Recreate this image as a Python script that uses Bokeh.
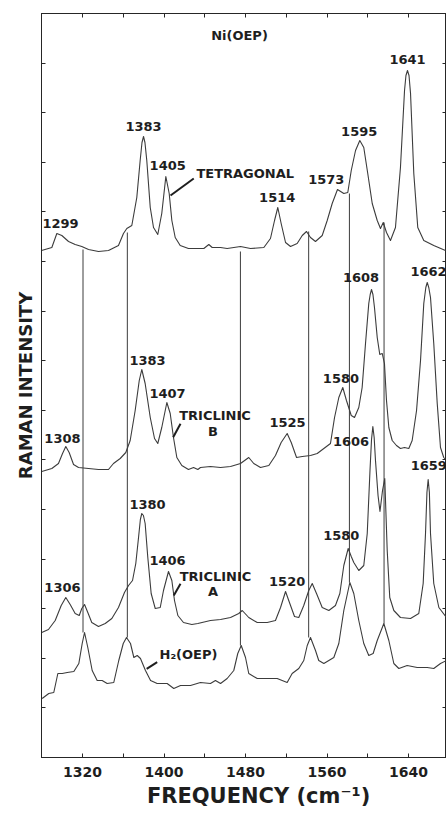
from bokeh.plotting import figure
from bokeh.models import Range1d, FixedTicker, LinearAxis, ColumnDataSource
from bokeh.core.properties import value
from bokeh.embed import file_html
from bokeh.resources import INLINE

# ---------------- data (frequency cm-1, relative Raman intensity) ----------------
tetra_f = [1279.8, 1289.9, 1294.8, 1299.7, 1306.3, 1312.8, 1319.3, 1325.9, 1335.7, 1345.5,
           1355.3, 1360.2, 1363.5, 1368.4, 1373.3, 1376.6, 1378.4, 1379.9, 1381.3, 1383.1,
           1386.5, 1389.7, 1393.9, 1397.8, 1401.8, 1405.1, 1407.7, 1411.0, 1415.9, 1424.0,
           1432.2, 1439.1, 1444.0, 1447.3, 1455.5, 1462.0, 1475.1, 1484.9, 1498.0, 1504.5,
           1508.5, 1511.7, 1515.0, 1519.3, 1524.2, 1530.7, 1535.7, 1539.9, 1543.8, 1548.7,
           1555.3, 1560.2, 1565.1, 1570.3, 1576.5, 1580.4, 1583.8, 1588.0, 1592.2, 1596.1,
           1600.0, 1604.4, 1609.3, 1612.5, 1615.2, 1618.4, 1622.3, 1627.2, 1632.1, 1636.1,
           1637.5, 1639.0, 1640.5, 1642.0, 1645.2, 1649.1, 1655.0, 1664.8, 1676.3]
tetra_i = [507, 510, 524, 522, 516, 513, 511, 508, 506, 507,
           512, 524, 529, 532, 560, 597, 615, 621, 615, 597,
           550, 530, 523, 544, 581, 564, 537, 520, 512, 509,
           509, 509, 513, 510, 510, 509, 511, 509, 510, 519,
           537, 550, 534, 515, 511, 514, 522, 526, 520, 516,
           522, 537, 554, 568, 564, 565, 587, 607, 617, 610,
           584, 554, 537, 529, 535, 525, 517, 530, 590, 667,
           682, 687, 682, 664, 584, 530, 517, 512, 507]

tricB_f = [1280.0, 1289.9, 1296.4, 1300.4, 1303.6, 1306.9, 1311.2, 1316.1, 1325.9, 1335.7,
           1345.5, 1350.4, 1357.0, 1362.5, 1366.8, 1371.7, 1375.7, 1378.2, 1381.5, 1386.5,
           1390.7, 1393.9, 1397.8, 1402.8, 1406.1, 1409.3, 1412.6, 1417.5, 1424.0, 1429.0,
           1433.2, 1435.8, 1445.6, 1455.5, 1465.3, 1475.1, 1483.2, 1488.1, 1494.7, 1502.9,
           1509.4, 1515.0, 1520.9, 1524.9, 1530.1, 1535.7, 1543.8, 1550.4, 1556.9, 1563.4,
           1567.4, 1571.6, 1575.5, 1579.1, 1583.8, 1587.0, 1591.2, 1594.5, 1597.8, 1601.0,
           1602.4, 1603.7, 1605.1, 1606.6, 1609.3, 1611.8, 1614.2, 1616.4, 1618.4, 1620.7,
           1624.0, 1628.2, 1632.1, 1636.1, 1640.3, 1643.6, 1647.9, 1651.8, 1655.0, 1657.0,
           1658.4, 1659.9, 1661.6, 1664.8, 1668.2, 1671.4, 1674.6, 1677.3]
tricB_i = [286, 289, 294, 304, 311, 305, 293, 290, 289, 288,
           288, 294, 299, 305, 317, 347, 377, 388, 374, 340,
           319, 314, 330, 355, 344, 320, 300, 292, 288, 290,
           288, 290, 291, 290, 291, 294, 300, 294, 290, 292,
           302, 315, 324, 315, 300, 301, 302, 304, 309, 314,
           340, 360, 370, 357, 342, 340, 350, 370, 414, 454,
           463, 468, 463, 450, 420, 403, 404, 394, 357, 330,
           317, 312, 309, 310, 309, 317, 347, 397, 454, 470,
           475, 470, 460, 414, 354, 310, 300, 297]

tricA_f = [1280.0, 1286.6, 1293.2, 1299.1, 1303.6, 1307.9, 1312.8, 1316.8, 1319.3, 1322.0,
           1325.2, 1329.1, 1335.7, 1342.3, 1348.8, 1355.3, 1361.2, 1365.2, 1369.1, 1372.3,
           1375.0, 1376.8, 1378.2, 1379.8, 1381.5, 1384.1, 1387.4, 1391.4, 1396.3, 1399.5,
           1404.4, 1407.7, 1410.3, 1413.6, 1419.1, 1427.3, 1433.2, 1445.6, 1455.5, 1465.3,
           1473.4, 1476.8, 1483.2, 1491.5, 1501.3, 1509.4, 1514.4, 1519.3, 1523.5, 1528.1,
           1532.3, 1537.2, 1542.1, 1545.5, 1549.7, 1555.3, 1561.8, 1568.3, 1572.6, 1576.5,
           1580.8, 1583.8, 1586.3, 1591.2, 1596.1, 1599.5, 1602.2, 1603.7, 1605.0, 1606.3,
           1607.6, 1610.1, 1612.0, 1614.5, 1616.7, 1619.1, 1621.6, 1625.6, 1632.1, 1642.0,
           1650.1, 1654.4, 1656.7, 1658.1, 1659.3, 1660.5, 1661.6, 1664.8, 1669.8, 1677.3]
tricA_i = [125, 128, 137, 152, 160, 153, 144, 142, 149, 153,
           145, 135, 131, 134, 139, 150, 165, 172, 177, 194,
           220, 238, 244, 242, 234, 200, 164, 149, 150, 167,
           186, 177, 157, 142, 135, 133, 134, 137, 138, 140,
           144, 147, 140, 135, 135, 137, 150, 166, 154, 141,
           140, 152, 167, 174, 164, 150, 147, 152, 164, 192,
           209, 201, 195, 187, 192, 224, 287, 318, 331, 320,
           297, 262, 246, 267, 279, 207, 160, 147, 140, 139,
           144, 174, 224, 265, 278, 265, 224, 174, 150, 140]

h2_f = [1280.4, 1286.9, 1291.8, 1295.8, 1300.1, 1305.0, 1311.5, 1316.4, 1319.7, 1322.0,
        1325.2, 1329.5, 1334.4, 1339.3, 1344.2, 1350.7, 1355.6, 1360.0, 1363.2, 1367.1,
        1370.4, 1373.7, 1376.9, 1381.8, 1386.8, 1393.3, 1403.1, 1409.6, 1416.2, 1426.0,
        1435.8, 1445.6, 1450.5, 1455.5, 1462.0, 1468.5, 1472.4, 1475.8, 1480.0, 1483.2,
        1491.5, 1501.3, 1511.1, 1520.9, 1525.8, 1532.3, 1537.2, 1540.6, 1543.8, 1548.7,
        1551.9, 1556.9, 1561.8, 1566.7, 1571.6, 1576.5, 1582.4, 1586.3, 1591.2, 1596.1,
        1601.0, 1605.3, 1609.3, 1615.8, 1620.7, 1625.6, 1630.5, 1638.7, 1648.5, 1658.4,
        1664.8, 1671.4, 1677.3]
h2_i = [59, 64, 65, 84, 84, 85, 86, 94, 114, 125,
        110, 87, 77, 77, 74, 75, 97, 114, 120, 114,
        100, 102, 99, 87, 77, 74, 74, 69, 72, 72,
        75, 74, 77, 74, 79, 87, 104, 112, 100, 84,
        79, 79, 79, 75, 84, 89, 97, 112, 120, 107,
        97, 94, 97, 100, 114, 147, 175, 164, 137, 114,
        102, 104, 117, 134, 117, 94, 89, 92, 90, 90,
        89, 94, 97]

# H2(OEP) bands marked through all spectra
marker_f = [1320.5, 1364, 1475, 1542, 1582, 1616]
marker_top = [508, 525, 506, 526, 564, 535]
marker_bottom = [125, 120, 112, 120, 175, 134]

# band labels
label_text = ["Ni(OEP)", "1299", "1383", "1405", "TETRAGONAL", "1514", "1573", "1595", "1641",
              "1308", "1383", "1407", "TRICLINIC", "B", "1525", "1580", "1608", "1662",
              "1306", "1380", "1406", "TRICLINIC", "A", "1520", "1580", "1606", "1659",
              "H\u2082(OEP)"]
label_f = [1474.1, 1298.4, 1379.9, 1403.6, 1479.7, 1511.1, 1559.3, 1591.6, 1639.0,
           1300.3, 1383.8, 1403.5, 1450.1, 1448.1, 1521.2, 1573.7, 1593.4, 1659.6,
           1300.3, 1383.8, 1403.5, 1450.6, 1448.1, 1520.9, 1574.0, 1583.6, 1659.9,
           1424.0]
label_i = [722, 534, 631, 592, 584.5, 560, 578, 626, 698,
           319.5, 397.5, 364.5, 342, 326, 335, 379.5, 480.3, 485.7,
           170.3, 252.7, 197, 181, 165.7, 175.7, 222, 315.7, 292,
           103]

# leader arrows for labels
arrow_f0 = [1429.2, 1416.2, 1416.2, 1393.3]
arrow_i0 = [579, 333.7, 173.7, 95.3]
arrow_f1 = [1406.4, 1409.0, 1409.6, 1383.0]
arrow_i1 = [562, 320.3, 162, 88.7]

x_major = [1320, 1400, 1480, 1560, 1640]
x_minor = [1280, 1360, 1440, 1520, 1600]

# ---------------- figure ----------------
INK = "#262626"
TRACE = "#3c3c3c"
FONT = "DejaVu Sans"

p = figure(width=446, height=813, output_backend="svg", toolbar_location=None,
           x_range=Range1d(1279.75, 1677.3), y_range=Range1d(0, 744),
           min_border_left=41, min_border_right=0, min_border_top=13, min_border_bottom=56,
           background_fill_color="white", border_fill_color="white")
p.grid.visible = False
p.outline_line_color = INK
p.outline_line_width = 1

y_ticks = [k * 49.6 for k in range(16)]

def style_axis(ax, major, minor):
    ax.ticker = FixedTicker(ticks=major, minor_ticks=minor)
    ax.major_tick_in = 4
    ax.major_tick_out = 0
    ax.minor_tick_in = 4
    ax.minor_tick_out = 0
    ax.axis_line_color = INK
    ax.major_tick_line_color = INK
    ax.minor_tick_line_color = INK

# bottom axis with labels
xa = p.xaxis[0]
style_axis(xa, x_major, x_minor)
xa.major_label_text_font = FONT
xa.major_label_text_font_style = "bold"
xa.major_label_text_font_size = "14px"
xa.major_label_text_color = "#1e1e1e"
xa.major_label_standoff = 9
xa.axis_label = "\u00a0\u00a0\u00a0\u00a0FREQUENCY (cm\u207b\u00b9)"
xa.axis_label_text_font = FONT
xa.axis_label_text_font_style = "bold"
xa.axis_label_text_font_size = "21px"
xa.axis_label_text_color = "#1e1e1e"
xa.axis_label_standoff = 4

# left axis: ticks only, title
ya = p.yaxis[0]
style_axis(ya, [], y_ticks)
ya.axis_label = "RAMAN INTENSITY"
ya.axis_label_text_font = FONT
ya.axis_label_text_font_style = "bold"
ya.axis_label_text_font_size = "18px"
ya.axis_label_text_color = "#1e1e1e"
ya.axis_label_standoff = 6

top_ax = LinearAxis()
style_axis(top_ax, [], x_major + x_minor)
p.add_layout(top_ax, "above")
right_ax = LinearAxis()
style_axis(right_ax, [], y_ticks)
p.add_layout(right_ax, "right")

# spectra
for fx, iy in [(tetra_f, tetra_i), (tricB_f, tricB_i), (tricA_f, tricA_i), (h2_f, h2_i)]:
    p.line(fx, iy, line_color=TRACE, line_width=1.1, line_join="round")

# H2(OEP) band markers
p.segment(x0=marker_f, y0=marker_bottom, x1=marker_f, y1=marker_top,
          line_color=TRACE, line_width=1)

# arrows
p.segment(x0=arrow_f0, y0=arrow_i0, x1=arrow_f1, y1=arrow_i1,
          line_color="#1e1e1e", line_width=2)

# labels
src = ColumnDataSource(dict(x=label_f, y=label_i, t=label_text))
p.text(x="x", y="y", text="t", source=src, text_font=value(FONT), text_font_style="bold",
       text_font_size="13px", text_align="center", text_baseline="middle",
       text_color="#1e1e1e")

open("out.html", "w").write(file_html(p, INLINE))
